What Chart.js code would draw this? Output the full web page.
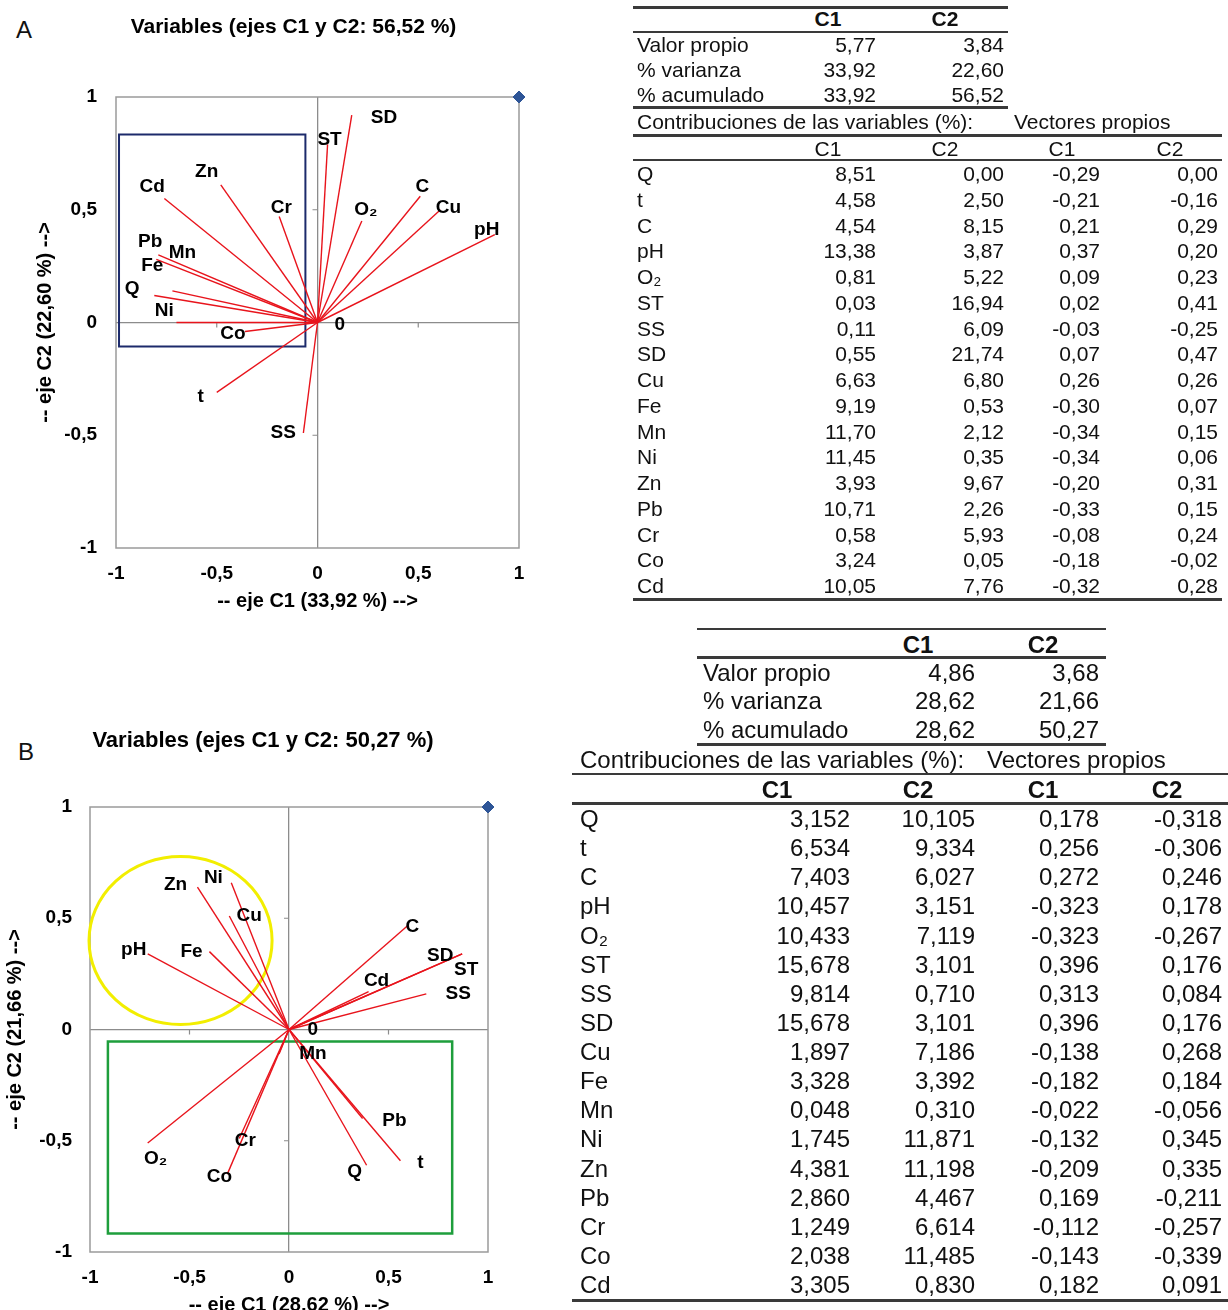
<!DOCTYPE html>
<html>
<head>
<meta charset="utf-8">
<script src="https://cdn.jsdelivr.net/npm/chart.js@4.4.1/dist/chart.umd.min.js"></script>
<style>
  body { margin: 0; background: #fff; width: 1228px; height: 1310px; position: relative; overflow: hidden;
         font-family: "Liberation Sans", Arial, sans-serif; color: #111; }
  .box { position: absolute; }
  .cell { position: absolute; white-space: nowrap; }
  .rule { position: absolute; background: #3a3a3a; }
  .letter { position: absolute; font-size: 24px; }
</style>
</head>
<body>
<div class="letter" style="left:16px;top:16px">A</div>
<div class="letter" style="left:18px;top:738px">B</div>
<div class="box" style="left:0;top:0"><canvas id="biplotA" width="600" height="620"></canvas></div>
<div class="box" style="left:0;top:700px"><canvas id="biplotB" width="600" height="620"></canvas></div>
<div id="tables"></div>
<script>
// ---- data -------------------------------------------------------------
const varNames = ['Q', 't', 'C', 'pH', 'O₂', 'ST', 'SS', 'SD', 'Cu', 'Fe', 'Mn', 'Ni', 'Zn', 'Pb', 'Cr', 'Co', 'Cd'];

// panel A: vector tips
const tipA_C1 = [-0.70, -0.50, 0.51, 0.88, 0.22, 0.05, -0.07, 0.17, 0.61, -0.72, -0.80, -0.81, -0.48, -0.79, -0.19, -0.36, -0.76];
const tipA_C2 = [0.00, -0.31, 0.56, 0.39, 0.45, 0.79, -0.49, 0.92, 0.50, 0.14, 0.28, 0.12, 0.61, 0.30, 0.47, -0.04, 0.55];

// panel B: vector tips
const tipB_C1 = [0.39, 0.56, 0.60, -0.71, -0.71, 0.87, 0.69, 0.87, -0.30, -0.40, -0.05, -0.29, -0.46, 0.37, -0.25, -0.31, 0.40];
const tipB_C2 = [-0.61, -0.59, 0.47, 0.34, -0.51, 0.34, 0.16, 0.34, 0.51, 0.35, -0.11, 0.66, 0.64, -0.40, -0.49, -0.65, 0.17];

// tables
const rowNamesTop = ['Valor propio', '% varianza', '% acumulado'];
const eigA = [5.77, 3.84];
const varPctA = [33.92, 22.60];
const cumPctA = [33.92, 56.52];
const contA_C1 = [8.51, 4.58, 4.54, 13.38, 0.81, 0.03, 0.11, 0.55, 6.63, 9.19, 11.70, 11.45, 3.93, 10.71, 0.58, 3.24, 10.05];
const contA_C2 = [0.00, 2.50, 8.15, 3.87, 5.22, 16.94, 6.09, 21.74, 6.80, 0.53, 2.12, 0.35, 9.67, 2.26, 5.93, 0.05, 7.76];
const vecA_C1 = [-0.29, -0.21, 0.21, 0.37, 0.09, 0.02, -0.03, 0.07, 0.26, -0.30, -0.34, -0.34, -0.20, -0.33, -0.08, -0.18, -0.32];
const vecA_C2 = [0.00, -0.16, 0.29, 0.20, 0.23, 0.41, -0.25, 0.47, 0.26, 0.07, 0.15, 0.06, 0.31, 0.15, 0.24, -0.02, 0.28];

const eigB = [4.86, 3.68];
const varPctB = [28.62, 21.66];
const cumPctB = [28.62, 50.27];
const contB_C1 = [3.152, 6.534, 7.403, 10.457, 10.433, 15.678, 9.814, 15.678, 1.897, 3.328, 0.048, 1.745, 4.381, 2.860, 1.249, 2.038, 3.305];
const contB_C2 = [10.105, 9.334, 6.027, 3.151, 7.119, 3.101, 0.710, 3.101, 7.186, 3.392, 0.310, 11.871, 11.198, 4.467, 6.614, 11.485, 0.830];
const vecB_C1 = [0.178, 0.256, 0.272, -0.323, -0.323, 0.396, 0.313, 0.396, -0.138, -0.182, -0.022, -0.132, -0.209, 0.169, -0.112, -0.143, 0.182];
const vecB_C2 = [-0.318, -0.306, 0.246, 0.178, -0.267, 0.176, 0.084, 0.176, 0.268, 0.184, -0.056, 0.345, 0.335, -0.211, -0.257, -0.339, 0.091];

// ---- label placement (data units) ---------------------------------------
const labelA_x = [-0.92, -0.58, 0.52, 0.84, 0.24, 0.06, -0.17, 0.33, 0.65, -0.82, -0.67, -0.76, -0.55, -0.83, -0.18, -0.42, -0.82];
const labelA_y = [0.15, -0.33, 0.60, 0.41, 0.50, 0.81, -0.49, 0.91, 0.51, 0.25, 0.31, 0.05, 0.67, 0.36, 0.51, -0.05, 0.60];
const labelB_x = [0.33, 0.66, 0.62, -0.78, -0.67, 0.89, 0.85, 0.76, -0.20, -0.49, 0.12, -0.38, -0.57, 0.53, -0.22, -0.35, 0.44];
const labelB_y = [-0.64, -0.60, 0.46, 0.36, -0.58, 0.27, 0.16, 0.33, 0.51, 0.35, -0.11, 0.68, 0.65, -0.41, -0.50, -0.66, 0.22];

Chart.defaults.font.family = '"Liberation Sans", Arial, sans-serif';
Chart.defaults.color = '#000';

const fmt = (v, d) => v.toFixed(d).replace('.', ',');

// frame, zero-line ticks, highlight shapes and variable labels
const biplotDecor = {
  id: 'biplotDecor',
  beforeDatasetsDraw(chart, args, opts) {
    const { ctx, chartArea: a, scales: { x, y } } = chart;
    ctx.save();
    ctx.strokeStyle = '#9a9a9a';
    ctx.lineWidth = 1.5;
    ctx.strokeRect(a.left, a.top, a.right - a.left, a.bottom - a.top);
    const x0 = x.getPixelForValue(0), y0 = y.getPixelForValue(0);
    ctx.strokeStyle = '#8c8c8c';
    ctx.lineWidth = 1.2;
    [-0.5, 0.5].forEach(v => {
      ctx.beginPath();
      ctx.moveTo(x0 - 5, y.getPixelForValue(v)); ctx.lineTo(x0, y.getPixelForValue(v));
      ctx.moveTo(x.getPixelForValue(v), y0); ctx.lineTo(x.getPixelForValue(v), y0 + 5);
      ctx.stroke();
    });
    (opts.shapes || []).forEach(s => {
      ctx.strokeStyle = s.color;
      ctx.lineWidth = s.width;
      ctx.beginPath();
      if (s.kind === 'rect') {
        const l = x.getPixelForValue(s.x1), r = x.getPixelForValue(s.x2);
        const t = y.getPixelForValue(s.y1), b = y.getPixelForValue(s.y2);
        ctx.rect(l, t, r - l, b - t);
      } else {
        const cx = x.getPixelForValue(s.cx), cy = y.getPixelForValue(s.cy);
        const rx = x.getPixelForValue(s.cx + s.rx) - cx, ry = cy - y.getPixelForValue(s.cy + s.ry);
        ctx.ellipse(cx, cy, rx, ry, 0, 0, Math.PI * 2);
      }
      ctx.stroke();
    });
    ctx.restore();
  },
  afterDatasetsDraw(chart, args, opts) {
    const { ctx, scales: { x, y } } = chart;
    ctx.save();
    ctx.fillStyle = '#000';
    ctx.font = 'bold 19px "Liberation Sans", Arial, sans-serif';
    ctx.textAlign = 'center';
    ctx.textBaseline = 'middle';
    opts.names.forEach((n, i) => {
      ctx.fillText(n, x.getPixelForValue(opts.lx[i]), y.getPixelForValue(opts.ly[i]));
    });
    ctx.fillText('0', x.getPixelForValue(opts.origin[0]), y.getPixelForValue(opts.origin[1]));
    ctx.restore();
  }
};

function vectorSets(c1, c2) {
  const sets = c1.map((v, i) => ({
    label: varNames[i],
    data: [{ x: 0, y: 0 }, { x: v, y: c2[i] }],
    showLine: true,
    borderColor: '#e8141c',
    borderWidth: 1.4,
    pointRadius: 0
  }));
  sets.push({
    label: 'ref',
    data: [{ x: 1, y: 1 }],
    pointStyle: 'rectRot',
    pointRadius: 6,
    backgroundColor: '#2e5597',
    borderColor: '#2e5597',
    clip: false
  });
  return sets;
}

function axisCfg(titleText, fixSize, tickPad, titlePad, isX) {
  return {
    type: 'linear',
    position: isX ? 'bottom' : 'left',
    min: -1, max: 1,
    ticks: { stepSize: 0.5, callback: v => String(v).replace('.', ','), font: { size: 19, weight: 'bold' },
             color: '#000', padding: tickPad, maxRotation: 0 },
    grid: { color: c => (c.tick && c.tick.value === 0 ? '#8c8c8c' : 'rgba(0,0,0,0)'), lineWidth: 1.3, drawTicks: false },
    border: { display: false },
    title: { display: true, text: titleText, font: { size: 20, weight: 'bold' }, color: '#000', padding: titlePad },
    afterFit: s => { if (isX) s.height = fixSize; else s.width = fixSize; }
  };
}

function makeBiplot(id, cfg) {
  new Chart(document.getElementById(id), {
    type: 'scatter',
    data: { datasets: vectorSets(cfg.c1, cfg.c2) },
    options: {
      responsive: false,
      animation: false,
      layout: { padding: { left: 0, right: cfg.padRight, top: 0, bottom: 0 } },
      scales: {
        x: axisCfg(cfg.xTitle, cfg.xH, cfg.xTickPad, { top: 0, bottom: cfg.xTitlePad }, true),
        y: axisCfg(cfg.yTitle, cfg.yW, cfg.yTickPad, { top: cfg.yTitlePad, bottom: 0 }, false),
        y2: { position: 'right', min: -1, max: 1, ticks: { display: false }, grid: { display: false, drawTicks: false },
              border: { display: false }, afterFit: s => { s.width = cfg.rightW; } }
      },
      plugins: {
        legend: { display: false },
        tooltip: { enabled: false },
        title: { display: true, text: cfg.title, font: { size: cfg.titleSize, weight: 'bold' }, color: '#000',
                 padding: { top: cfg.titleTop, bottom: cfg.titleBottom } },
        biplotDecor: { names: varNames, lx: cfg.lx, ly: cfg.ly, origin: cfg.origin, shapes: cfg.shapes }
      }
    },
    plugins: [biplotDecor]
  });
}

makeBiplot('biplotA', {
  c1: tipA_C1, c2: tipA_C2, lx: labelA_x, ly: labelA_y, origin: [0.11, -0.01],
  title: 'Variables (ejes C1 y C2: 56,52 %)',
  xTitle: '-- eje C1 (33,92 %) -->', yTitle: '-- eje C2 (22,60 %) -->',
  padRight: 13, rightW: 68, xH: 72, yW: 116, xTickPad: 14, yTickPad: 19, xTitlePad: 7, yTitlePad: 33,
  titleSize: 21, titleTop: 15, titleBottom: 56.8,
  shapes: [{ kind: 'rect', x1: -0.985, x2: -0.06, y1: 0.834, y2: -0.106, color: '#1c2a6b', width: 2 }]
});

makeBiplot('biplotB', {
  c1: tipB_C1, c2: tipB_C2, lx: labelB_x, ly: labelB_y, origin: [0.12, 0.0],
  title: 'Variables (ejes C1 y C2: 50,27 %)',
  xTitle: '-- eje C1 (28,62 %) -->', yTitle: '-- eje C2 (21,66 %) -->',
  padRight: 74, rightW: 38, xH: 68, yW: 90, xTickPad: 14, yTickPad: 18, xTitlePad: 3, yTitlePad: 3,
  titleSize: 22, titleTop: 27.8, titleBottom: 52.8,
  shapes: [
    { kind: 'ellipse', cx: -0.545, cy: 0.40, rx: 0.46, ry: 0.378, color: '#f2ee00', width: 3 },
    { kind: 'rect', x1: -0.91, x2: 0.82, y1: -0.054, y2: -0.917, color: '#1e9e3c', width: 2.5 }
  ]
});

// ---- tables -------------------------------------------------------------
const layer = document.getElementById('tables');
function put(txt, x, y, size, align, bold) {
  const d = document.createElement('div');
  const w = 420;
  const left = align === 'right' ? x - w : align === 'center' ? x - w / 2 : x;
  d.className = 'cell';
  d.style.cssText = `left:${left}px;top:${y - size}px;width:${w}px;height:${size * 2}px;line-height:${size * 2}px;` +
    `font-size:${size}px;text-align:${align};font-weight:${bold ? 'bold' : 'normal'}`;
  d.textContent = txt;
  layer.appendChild(d);
}
function rule(x1, x2, y, h) {
  const d = document.createElement('div');
  d.className = 'rule';
  d.style.cssText = `left:${x1}px;top:${y - h / 2}px;width:${x2 - x1}px;height:${h}px`;
  layer.appendChild(d);
}

function drawTable(t) {
  const s = t.size;
  t.hdr1.forEach((x, i) => put('C' + (i + 1), x, t.hdrY, s, 'center', true));
  [t.eig, t.varPct, t.cumPct].forEach((vals, r) => {
    put(rowNamesTop[r], t.topLabelX, t.topRows[r], s, 'left', false);
    vals.forEach((v, i) => put(fmt(v, 2), t.topColR[i], t.topRows[r], s, 'right', false));
  });
  put('Contribuciones de las variables (%):', t.labelX, t.contY, s, 'left', false);
  put('Vectores propios', t.vecX, t.contY, s, 'left', false);
  t.hdr2.forEach((x, i) => put('C' + (i % 2 + 1), x, t.hdr2Y, s, 'center', t.hdr2Bold));
  varNames.forEach((n, r) => {
    const y = t.rowY0 + r * t.rowStep;
    put(n, t.labelX, y, s, 'left', false);
    [t.c1, t.c2, t.v1, t.v2].forEach((col, k) => put(fmt(col[r], t.dec), t.colR[k], y, s, 'right', false));
  });
  t.rules.forEach(r => rule(r[0], r[1], r[2], r[3]));
}

drawTable({
  size: 21, hdr1: [828, 945], hdrY: 19, topLabelX: 637, topRows: [45, 70, 95], topColR: [876, 1004],
  eig: eigA, varPct: varPctA, cumPct: cumPctA,
  labelX: 637, vecX: 1014, contY: 122, hdr2: [828, 945, 1062, 1170], hdr2Y: 149, hdr2Bold: false,
  rowY0: 174, rowStep: 25.75, colR: [876, 1004, 1100, 1218], dec: 2,
  c1: contA_C1, c2: contA_C2, v1: vecA_C1, v2: vecA_C2,
  rules: [[633, 1008, 7, 3], [633, 1008, 32, 2], [633, 1008, 107, 3], [633, 1222, 135, 3], [633, 1222, 160, 2], [633, 1222, 599, 3]]
});

drawTable({
  size: 24, hdr1: [918, 1043], hdrY: 645, topLabelX: 703, topRows: [673, 701, 730], topColR: [975, 1099],
  eig: eigB, varPct: varPctB, cumPct: cumPctB,
  labelX: 580, vecX: 987, contY: 760, hdr2: [777, 918, 1043, 1167], hdr2Y: 790, hdr2Bold: true,
  rowY0: 819, rowStep: 29.125, colR: [850, 975, 1099, 1222], dec: 3,
  c1: contB_C1, c2: contB_C2, v1: vecB_C1, v2: vecB_C2,
  rules: [[697, 1106, 629, 2], [697, 1106, 657, 3], [697, 1106, 744, 3], [572, 1228, 774, 2], [572, 1228, 803, 3], [572, 1228, 1300, 3]]
});
</script>
</body>
</html>
